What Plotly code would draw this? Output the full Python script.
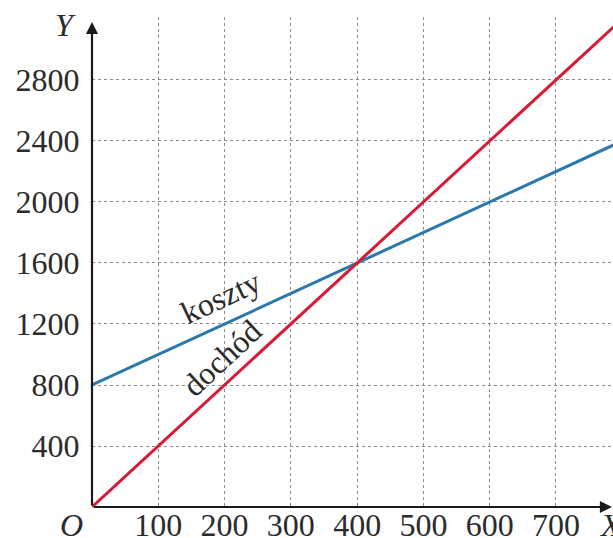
import plotly.graph_objects as go

# Data
x_vals = [0, 800]
koszty = [800, 2400]
dochod = [0, 3200]
x_ticks = [100, 200, 300, 400, 500, 600, 700]
y_ticks = [400, 800, 1200, 1600, 2000, 2400, 2800]

FONT = "Liberation Serif"
TXT = "#2b2b2b"
BLUE = "#2a78ad"
RED = "#d81b34"
FS = 32

X_MAX = 786
Y_MAX = 3213

fig = go.Figure()
fig.add_trace(go.Scatter(x=x_vals, y=koszty, mode="lines",
                         line=dict(color=BLUE, width=3), showlegend=False, hoverinfo="skip"))
fig.add_trace(go.Scatter(x=x_vals, y=dochod, mode="lines",
                         line=dict(color=RED, width=3), showlegend=False, hoverinfo="skip"))

fig.update_layout(
    width=613, height=538,
    margin=dict(l=92, r=0, t=17, b=31, autoexpand=False),
    paper_bgcolor="white", plot_bgcolor="white",
    font=dict(family=FONT, size=FS, color=TXT),
    xaxis=dict(range=[0, X_MAX], tickvals=x_ticks, ticktext=[str(v) for v in x_ticks],
               showgrid=True, gridcolor="#8a8a8a", griddash="dot", gridwidth=1,
               zeroline=False, showline=False, ticks="", ticklabelstandoff=-4,
               tickfont=dict(family=FONT, size=FS, color=TXT),
               automargin=False),
    yaxis=dict(range=[0, Y_MAX], tickvals=y_ticks, ticktext=[str(v) for v in y_ticks],
               showgrid=True, gridcolor="#8a8a8a", griddash="dot", gridwidth=1,
               zeroline=False, showline=False, ticks="outside", ticklen=5,
               tickcolor="rgba(0,0,0,0)", tickfont=dict(family=FONT, size=FS, color=TXT),
               automargin=False),
)

# Axes with arrows
fig.add_annotation(x=0, y=Y_MAX * 0.99, ax=0, ay=0, xref="x", yref="y", axref="x", ayref="y",
                   showarrow=True, arrowhead=2, arrowsize=1.1, arrowwidth=2.2, arrowcolor="#1a1a1a", text="")
fig.add_annotation(x=X_MAX * 0.998, y=0, ax=0, ay=0, xref="x", yref="y", axref="x", ayref="y",
                   showarrow=True, arrowhead=2, arrowsize=1.1, arrowwidth=2.2, arrowcolor="#1a1a1a", text="")

# Axis letters
fig.add_annotation(x=-0.05, y=1.025, xref="paper", yref="paper", text="<i>Y</i>", showarrow=False,
                   font=dict(family=FONT, size=FS, color=TXT), xanchor="center", yanchor="top")
fig.add_annotation(x=-0.04, y=0.005, xref="paper", yref="paper", text="<i>O</i>", showarrow=False,
                   font=dict(family=FONT, size=FS, color=TXT), xanchor="center", yanchor="top")
fig.add_annotation(x=0.97, y=0.005, xref="paper", yref="paper", text="<i>X</i>", showarrow=False,
                   font=dict(family=FONT, size=FS, color=TXT), xanchor="left", yanchor="top")

# Line labels
fig.add_annotation(x=195, y=1375, xref="x", yref="y", text="koszty", showarrow=False,
                   textangle=-25, font=dict(family=FONT, size=FS, color=TXT))
fig.add_annotation(x=196, y=975, xref="x", yref="y", text="dochód", showarrow=False,
                   textangle=-43, font=dict(family=FONT, size=FS, color=TXT))

fig.write_html("out.html", config={"displayModeBar": False},
               post_script="document.body.style.margin='0';document.documentElement.style.overflow='hidden';document.body.style.overflow='hidden';")
